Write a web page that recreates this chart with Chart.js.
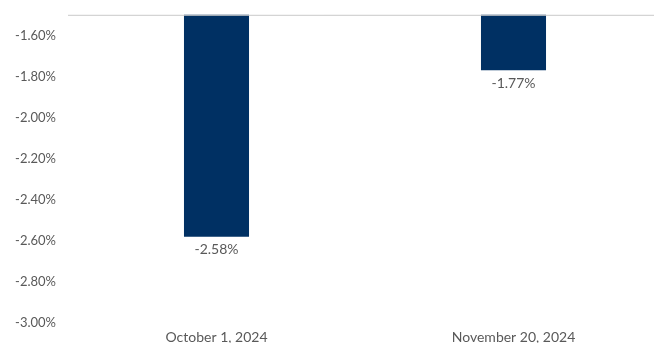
<!DOCTYPE html>
<html>
<head>
<meta charset="utf-8">
<script src="https://cdn.jsdelivr.net/npm/chart.js@4"></script>
<style>
  html, body { margin: 0; padding: 0; background: #fff; overflow: hidden; }
  #frame { position: relative; width: 654px; height: 343px; overflow: hidden; }
  /* canvas slightly oversized so the plot runs off the right edge */
  #wrap { position: absolute; left: 0; top: -5px; width: 662px; height: 348px; }
</style>
</head>
<body>
<div id="frame"><div id="wrap"><canvas id="chart"></canvas></div></div>
<script>
// Return change (%) at each date
const dates = ['October 1, 2024', 'November 20, 2024'];
const returns = [-2.58, -1.77];
const yTicks = [-3.0, -2.8, -2.6, -2.4, -2.2, -2.0, -1.8, -1.6];

const FONT = "Lato, 'Open Sans', sans-serif";
const GREY = '#595959';

// thin rule along the top of the plot area, plus value labels under each bar end
const decorations = {
    id: 'decorations',
    afterDatasetsDraw(chart) {
        const { ctx, chartArea } = chart;
        ctx.save();
        ctx.strokeStyle = '#c9c9c9';
        ctx.lineWidth = 1;
        ctx.beginPath();
        ctx.moveTo(chartArea.left, chartArea.top + 0.5);
        ctx.lineTo(chartArea.right, chartArea.top + 0.5);
        ctx.stroke();

        ctx.fillStyle = GREY;
        ctx.font = '14px ' + FONT;
        ctx.textAlign = 'center';
        ctx.textBaseline = 'middle';
        chart.getDatasetMeta(0).data.forEach((bar, i) => {
            ctx.fillText(returns[i].toFixed(2) + '%', bar.x, bar.y + 13);
        });
        ctx.restore();
    }
};

new Chart(document.getElementById('chart'), {
    type: 'bar',
    data: {
        labels: dates,
        datasets: [{
            data: returns,
            backgroundColor: '#003063',
            borderWidth: 0,
            categoryPercentage: 1,
            barPercentage: 0.219
        }]
    },
    plugins: [decorations],
    options: {
        responsive: true,
        maintainAspectRatio: false,
        animation: false,
        layout: { padding: { top: 14, right: 0, left: 0, bottom: 0 } },
        plugins: {
            legend: { display: false },
            tooltip: { enabled: false }
        },
        scales: {
            x: {
                grid: { display: false, drawTicks: false },
                border: { display: false },
                ticks: {
                    color: GREY,
                    font: { family: FONT, size: 14 },
                    padding: 6,
                    maxRotation: 0
                },
                afterFit: s => { s.height = 20; }
            },
            y: {
                min: -3.0,
                max: -1.5,
                grid: { display: false, drawTicks: false },
                border: { display: false },
                afterBuildTicks: s => { s.ticks = yTicks.map(v => ({ value: v })); },
                ticks: {
                    color: GREY,
                    font: { family: FONT, size: 13 },
                    padding: 12,
                    callback: v => v.toFixed(2) + '%'
                },
                afterFit: s => { s.width = 68; }
            }
        }
    }
});
</script>
</body>
</html>
